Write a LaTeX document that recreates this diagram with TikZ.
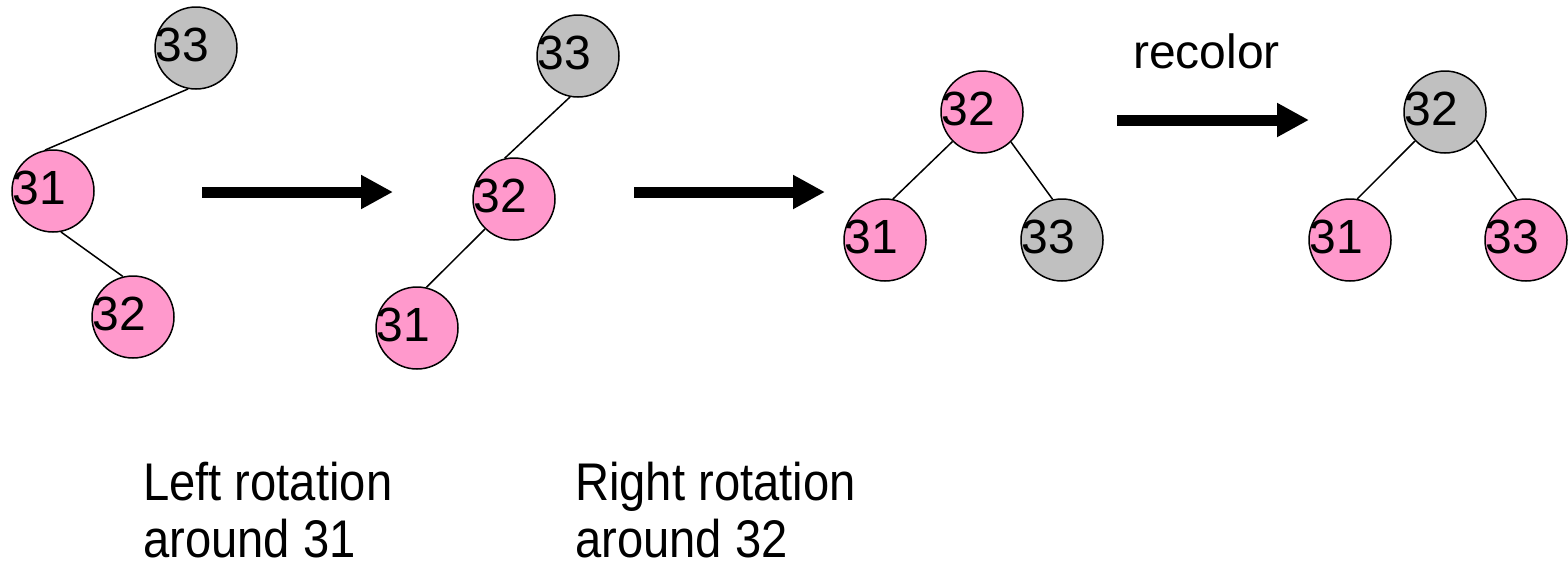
\documentclass[tikz,border=0pt]{standalone}
\usepackage{fontspec}
\setmainfont{Liberation Sans}
\usetikzlibrary{arrows.meta}
\definecolor{rbred}{RGB}{255,153,204}
\definecolor{rbblack}{RGB}{192,192,192}
\tikzset{
  key/.style={circle, draw, line width=1.5pt, minimum size=82pt, inner sep=0pt},
  redkey/.style={key, fill=rbred},
  blackkey/.style={key, fill=rbblack},
  num/.style={anchor=west, inner sep=0pt, xshift=1pt, yshift=3pt,
              font=\fontsize{48}{56}\selectfont},
  edge/.style={line width=1.5pt},
  bigarrow/.style={line width=11pt, -{Triangle[length=32pt,width=32pt]}},
  caption/.style={anchor=base west, align=left, inner sep=0pt,
                  font=\fontsize{53}{57}\selectfont}
}
\newcommand\narrow[1]{\scalebox{0.89}[1]{#1}}
\begin{document}
\begin{tikzpicture}[x=1pt, y=-1pt]
\useasboundingbox (0,0) rectangle (1568,563);

% step 0: 33 with left child 31, which has right child 32
\node[blackkey, label={[num]west:33}] (a33) at (196,48) {};
\node[redkey, label={[num]west:31}] (a31) at (53,191) {};
\node[redkey, label={[num]west:32}] (a32) at (133,317) {};
\draw[edge] (a33.-101) -- (a31.101);
\draw[edge] (a31.-79) -- (a32.104);

% step 1: after left rotation around 31
\node[blackkey, label={[num]west:33}] (b33) at (578,56) {};
\node[redkey, label={[num]west:32}] (b32) at (514,199) {};
\node[redkey, label={[num]west:31}] (b31) at (417,328) {};
\draw[edge] (b33.-101) -- (b32.103);
\draw[edge] (b32.-134) -- (b31.77);

% step 2: after right rotation around 32
\node[redkey, label={[num]west:32}] (c32) at (982,112) {};
\node[redkey, label={[num]west:31}] (c31) at (885,240) {};
\node[blackkey, label={[num]west:33}] (c33) at (1062,240) {};
\draw[edge] (c32.-135) -- (c31.79);
\draw[edge] (c32.-46) -- (c33.103);

% step 3: after recoloring
\node[blackkey, label={[num]west:32}] (d32) at (1445,112) {};
\node[redkey, label={[num]west:31}] (d31) at (1350,240) {};
\node[redkey, label={[num]west:33}] (d33) at (1526,240) {};
\draw[edge] (d32.-136) -- (d31.80);
\draw[edge] (d32.-42) -- (d33.103);

% transition arrows
\coordinate (s1) at (202,192);
\coordinate (e1) at (393,192);
\coordinate (s2) at (634,192);
\coordinate (e2) at (825,192);
\coordinate (s3) at (1117,120);
\coordinate (e3) at (1309,120);
\draw[bigarrow] (s1) -- (e1);
\draw[bigarrow] (s2) -- (e2);
\draw[bigarrow] (s3) -- (e3);

% captions (anchored at the baseline of their last line)
\node[caption] (lrot) at (143,557) {\narrow{Left rotation}\\\narrow{around 31}};
\node[caption] (rrot) at (575,557) {\narrow{Right rotation}\\\narrow{around 32}};
\node[anchor=base west, inner sep=0pt, font=\fontsize{48}{56}\selectfont] (recolor) at (1133,68) {recolor};
\end{tikzpicture}
\end{document}
